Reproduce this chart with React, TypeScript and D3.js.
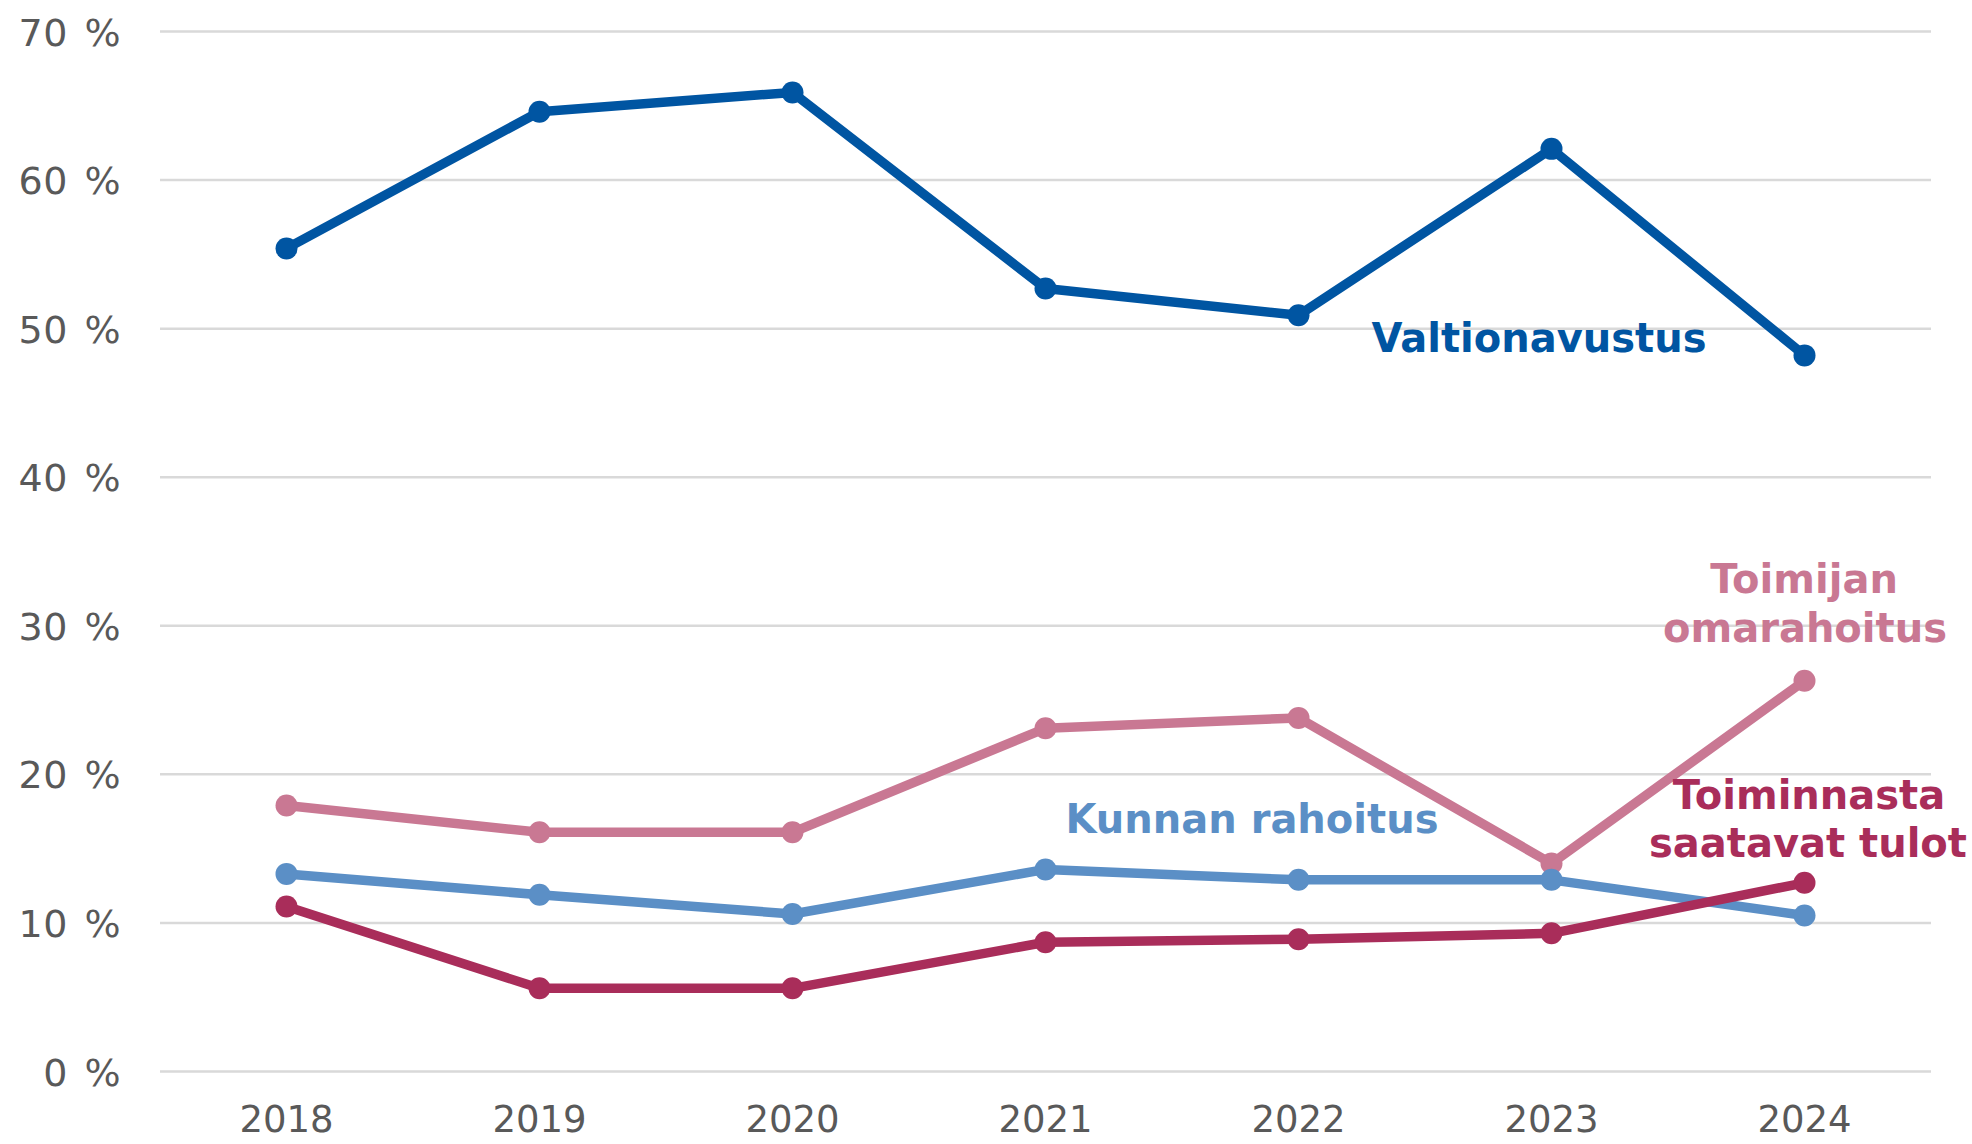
import React from "react";
import * as d3 from "d3";

const years = ["2018", "2019", "2020", "2021", "2022", "2023", "2024"];
const yTicks = [0, 10, 20, 30, 40, 50, 60, 70];

const valtionavustus = [55.4, 64.6, 65.9, 52.7, 50.9, 62.1, 48.2];
const omarahoitus = [17.9, 16.1, 16.1, 23.1, 23.8, 14.0, 26.3];
const kunnanRahoitus = [13.3, 11.9, 10.6, 13.6, 12.9, 12.9, 10.5];
const toiminnastaTulot = [11.1, 5.6, 5.6, 8.7, 8.9, 9.3, 12.7];

const seriesNames = ["Valtionavustus", "Toimijan omarahoitus", "Kunnan rahoitus", "Toiminnasta saatavat tulot"];
const seriesColors = ["#0055a2", "#c97893", "#5b8fc6", "#a92d5a"];

const W = 1972;
const H = 1144;
const plotLeft = 160;
const plotRight = 1931;
const plotTop = 31.5;
const plotBottom = 1071.5;

export default function App() {
  const x = d3.scalePoint<string>().domain(years).range([plotLeft, plotRight]).padding(0.5);
  const y = d3.scaleLinear().domain([0, 70]).range([plotBottom, plotTop]);

  const series = [
    { name: seriesNames[0], values: valtionavustus, color: seriesColors[0] },
    { name: seriesNames[1], values: omarahoitus, color: seriesColors[1] },
    { name: seriesNames[2], values: kunnanRahoitus, color: seriesColors[2] },
    { name: seriesNames[3], values: toiminnastaTulot, color: seriesColors[3] },
  ];

  const line = d3
    .line<number>()
    .x((_, i) => x(years[i]) as number)
    .y((d) => y(d));

  const labelFont = "'DejaVu Sans', Verdana, sans-serif";

  return (
    <svg
      width={W}
      height={H}
      style={{ position: "absolute", left: 0, top: 0, background: "#fff" }}
      fontFamily={labelFont}
    >
      <rect x={0} y={0} width={W} height={H} fill="#fff" />
      {yTicks.map((t) => (
        <g key={t}>
          <line x1={plotLeft} x2={plotRight} y1={y(t)} y2={y(t)} stroke="#d9d9d9" strokeWidth={2.5} />
          <text x={121} y={y(t) + 14} textAnchor="end" fontSize={38} wordSpacing={4} letterSpacing={0.5} fill="#595959">
            {`${t} %`}
          </text>
        </g>
      ))}
      {years.map((yr) => (
        <text key={yr} x={x(yr)} y={1132} textAnchor="middle" fontSize={37} fill="#595959">
          {yr}
        </text>
      ))}
      {series.map((s) => (
        <g key={s.name}>
          <path d={line(s.values) || ""} fill="none" stroke={s.color} strokeWidth={9.5} strokeLinejoin="round" />
          {s.values.map((v, i) => (
            <circle key={i} cx={x(years[i])} cy={y(v)} r={11} fill={s.color} />
          ))}
        </g>
      ))}
      <g fontWeight="bold" fontSize={40}>
        <text x={1539} y={352} textAnchor="middle" fill={seriesColors[0]}>Valtionavustus</text>
        <text x={1804} y={593} textAnchor="middle" fill={seriesColors[1]}>Toimijan</text>
        <text x={1805} y={642} textAnchor="middle" fill={seriesColors[1]}>omarahoitus</text>
        <text x={1252} y={833} textAnchor="middle" fill={seriesColors[2]}>Kunnan rahoitus</text>
        <text x={1809} y={809} textAnchor="middle" fill={seriesColors[3]}>Toiminnasta</text>
        <text x={1808} y={857} textAnchor="middle" fill={seriesColors[3]}>saatavat tulot</text>
      </g>
    </svg>
  );
}
